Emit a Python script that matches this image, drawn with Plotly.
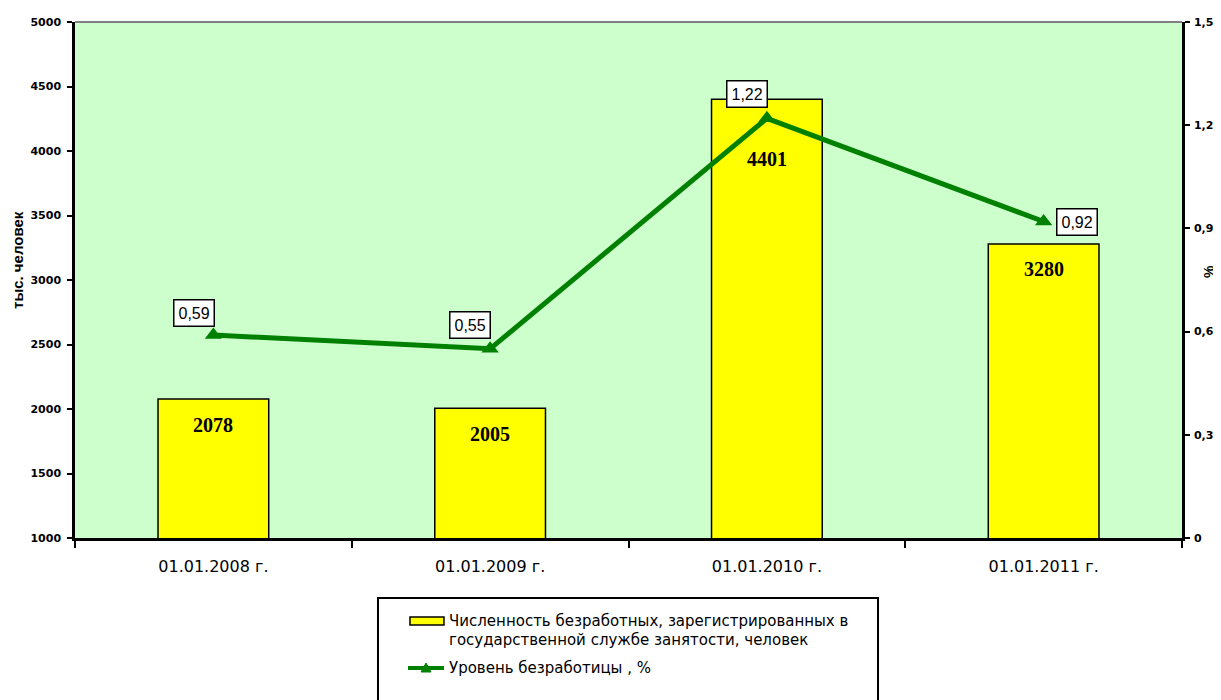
import plotly.graph_objects as go

categories = ["01.01.2008 г.", "01.01.2009 г.", "01.01.2010 г.", "01.01.2011 г."]
unemployed = [2078, 2005, 4401, 3280]
rate = [0.59, 0.55, 1.22, 0.92]
rate_labels = ["0,59", "0,55", "1,22", "0,92"]
left_ticks = [1000, 1500, 2000, 2500, 3000, 3500, 4000, 4500, 5000]
right_ticks = [0, 0.3, 0.6, 0.9, 1.2, 1.5]
right_tick_text = ["0", "0,3", "0,6", "0,9", "1,2", "1,5"]
bar_name_1 = "Численность безработных, зарегистрированных в"
bar_name_2 = "государственной службе занятости, человек"
line_name = "Уровень безработицы , %"
left_title = "тыс. человек"
right_title = "%"

GREEN = "#008000"
YELLOW = "#FFFF00"

fig = go.Figure()
fig.add_trace(go.Bar(
    x=categories, y=unemployed, name=bar_name_1, width=0.4,
    marker=dict(color=YELLOW, line=dict(color="black", width=1.5)),
    yaxis="y", showlegend=False,
))
fig.add_trace(go.Scatter(
    x=categories, y=rate, name=line_name, yaxis="y2", mode="lines+markers",
    line=dict(color=GREEN, width=5),
    marker=dict(symbol="triangle-up", size=15, color=GREEN),
    showlegend=False,
))

annotations = []
bar_shifts = [-26, -26, -60, -25]
for c, v, s in zip(categories, unemployed, bar_shifts):
    annotations.append(dict(x=c, y=v, xref="x", yref="y", text=f"<b>{v}</b>",
                            showarrow=False, yshift=s,
                            font=dict(family="Liberation Serif", size=20, color="black")))
offsets = [(-19, 22), (-20, 24), (-20, 24), (33, 0)]
for c, v, t, (dx, dy) in zip(categories, rate, rate_labels, offsets):
    annotations.append(dict(x=c, y=v, xref="x", yref="y2", text=t, showarrow=False,
                            xshift=dx, yshift=dy, bgcolor="white", bordercolor="black",
                            borderwidth=1.5, borderpad=4,
                            font=dict(family="Liberation Sans", size=16, color="black")))

# axis titles
annotations.append(dict(x=-0.0515, y=0.5388, xref="paper", yref="paper", text=f"<b>{left_title}</b>",
                        textangle=-90, showarrow=False, xanchor="center", yanchor="middle",
                        font=dict(family="Liberation Sans", size=15, color="black")))
annotations.append(dict(x=1.0245, y=0.5155, xref="paper", yref="paper", text=f"<b>{right_title}</b>",
                        textangle=-90, showarrow=False, xanchor="center", yanchor="middle",
                        font=dict(family="Liberation Sans", size=14, color="black")))

# manual legend texts
leg_font = dict(family="DejaVu Sans", size=15, color="black")
for txt, yy in [(bar_name_1, -0.1609), (bar_name_2, -0.1977), (line_name, -0.2519)]:
    annotations.append(dict(x=0.3360, y=yy, xref="paper", yref="paper", text=txt,
                            showarrow=False, xanchor="left", yanchor="middle", font=leg_font))

shapes = [
    dict(type="line", xref="paper", yref="paper", x0=0, x1=1, y0=1, y1=1,
         line=dict(color="gray", width=2)),
    dict(type="rect", xref="paper", yref="paper", x0=0.2737, x1=0.7254,
         y0=-0.36, y1=-0.1163, line=dict(color="black", width=2), fillcolor="white"),
    dict(type="rect", xref="paper", yref="paper", x0=0.3026, x1=0.3333,
         y0=-0.1686, y1=-0.1531, line=dict(color="black", width=1.5), fillcolor=YELLOW),
    dict(type="line", xref="paper", yref="paper", x0=0.3008, x1=0.3333,
         y0=-0.2519, y1=-0.2519, line=dict(color=GREEN, width=4)),
    dict(type="path", xref="paper", yref="paper",
         path="M 0.3126 -0.2597 L 0.3216 -0.2597 L 0.3171 -0.2422 Z",
         fillcolor=GREEN, line=dict(color=GREEN, width=1)),
]

fig.update_layout(
    width=1213, height=692,
    margin=dict(l=67, r=39, t=14, b=162, autoexpand=False),
    paper_bgcolor="white", plot_bgcolor="#CCFFCC",
    font=dict(family="Liberation Sans", color="black"),
    showlegend=False,
    xaxis=dict(showline=True, linecolor="black", linewidth=2.5, ticks="outside",
               tickson="boundaries", ticklen=7, tickwidth=2, tickcolor="black",
               ticklabelstandoff=12, automargin=False,
               tickfont=dict(size=16, color="black", family="DejaVu Sans")),
    yaxis=dict(range=[1000, 5000], tickvals=left_ticks, showgrid=False, zeroline=False,
               showline=True, linecolor="black", linewidth=2.5, ticks="outside", ticklen=5,
               tickwidth=2, tickcolor="black", ticklabelstandoff=4, automargin=False,
               tickfont=dict(size=11, color="black", family="DejaVu Sans", weight="bold")),
    yaxis2=dict(range=[0, 1.5], tickvals=right_ticks, ticktext=right_tick_text,
                overlaying="y", side="right", showgrid=False, zeroline=False,
                showline=True, linecolor="black", linewidth=2.5, ticks="outside", ticklen=5,
                tickwidth=2, tickcolor="black", ticklabelstandoff=2, automargin=False,
                tickfont=dict(size=11, color="black", family="DejaVu Sans", weight="bold")),
    annotations=annotations,
    shapes=shapes,
)
fig.write_html("out.html")
